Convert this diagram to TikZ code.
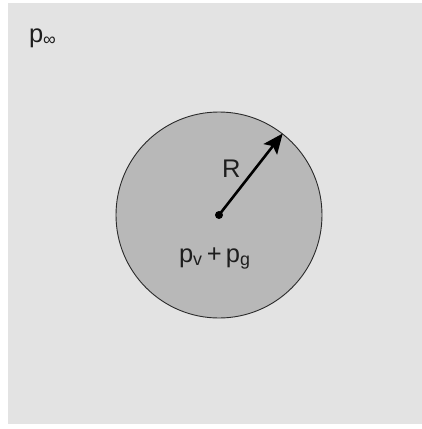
\documentclass[tikz,border=0pt]{standalone}
\usepackage{fontspec}
\setmainfont{Liberation Sans}
\usetikzlibrary{arrows.meta}
\definecolor{bgray}{HTML}{E3E3E3}
\definecolor{cgray}{HTML}{B8B8B8}
\definecolor{edge}{HTML}{2A2A2A}
\definecolor{txt}{HTML}{1E1E1E}
\tikzset{
  lbl/.style={inner sep=0pt, outer sep=0pt, text=txt, font=\fontsize{25.5}{30}\selectfont, anchor=base west},
  bubble/.style={circle, draw=edge, fill=cgray, line width=0.9pt, minimum size=206pt, inner sep=0pt},
  radius arrow/.style={line width=2.6pt, -{Stealth[length=20pt, width=17pt, inset=4pt]}, black}
}
\begin{document}
\begin{tikzpicture}[x=1pt,y=-1pt]
\useasboundingbox (0,0) rectangle (422,429);
\fill[bgray] (8,3) rectangle (422,424);
\node[bubble] (b) at (219,215) {};
\fill[black] (b.center) circle (4pt);
\coordinate (ctr) at (b.center);
\draw[radius arrow] (ctr) -- (b.52);
\node[lbl] (pinf) at (29,42) {p\textsubscript{∞}};
\node[lbl] (R) at (222,177) {R};
\node[lbl] (pvg) at (179,262) {p\textsubscript{v}\,+\,p\textsubscript{g}};
\end{tikzpicture}
\end{document}
